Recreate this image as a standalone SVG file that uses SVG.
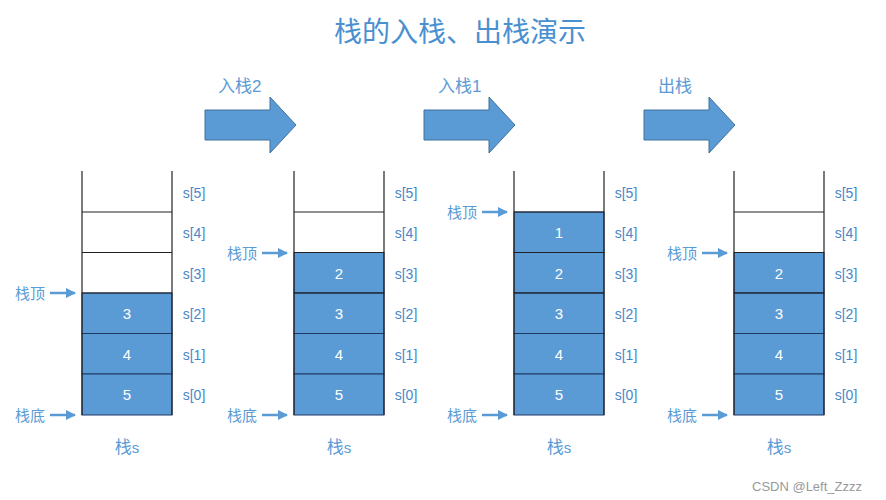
<svg xmlns="http://www.w3.org/2000/svg" width="886" height="500" viewBox="0 0 886 500">
<defs>
<marker id="ah" viewBox="0 0 10 10" refX="9" refY="5" markerWidth="4" markerHeight="4" orient="auto"><path d="M0,0 L10,5 L0,10 z" fill="#5b9bd5"/></marker>
<g id="stk">
<line x1="0" y1="0" x2="0" y2="244" stroke="#222" stroke-width="1.2"/>
<line x1="90" y1="0" x2="90" y2="244" stroke="#222" stroke-width="1.2"/>
<line x1="0" y1="41" x2="90" y2="41" stroke="#222"/>
<line x1="0" y1="81.5" x2="90" y2="81.5" stroke="#222"/>
<line x1="0" y1="122" x2="90" y2="122" stroke="#222"/>
<text class="s" x="112" y="27">s[5]</text><text class="s" x="112" y="67">s[4]</text><text class="s" x="112" y="108">s[3]</text><text class="s" x="112" y="148">s[2]</text><text class="s" x="112" y="189">s[1]</text><text class="s" x="112" y="229">s[0]</text>
<text class="lb" x="45" y="282" text-anchor="middle">栈<tspan font-size="15">s</tspan></text>
</g>
<path id="big" d="M0,13 H65 V0 L91,28 L65,56 V43 H0 z" fill="#5b9bd5" stroke="#41719c"/>
</defs>
<style>
text{font-family:"Liberation Sans","Noto Sans CJK SC",sans-serif;}
.s{fill:#4a86c5;font-size:14px;text-anchor:middle}
.lb{fill:#5b9bd5;font-size:17px}
.lt{fill:#5b9bd5;font-size:15px}
.w{fill:#fff;font-size:15px;text-anchor:middle}
.c{fill:#5b9bd5;stroke:#1f3864;stroke-width:1}
.pa{stroke:#5b9bd5;stroke-width:2.5;marker-end:url(#ah)}
</style>
<text x="460" y="42" text-anchor="middle" font-size="28" fill="#4a90d0">栈的入栈、出栈演示</text>
<g id="arrows">
<use href="#big" x="205" y="97"/><text class="lb" x="218" y="92">入栈2</text>
<use href="#big" x="424" y="97"/><text class="lb" x="438" y="92">入栈1</text>
<use href="#big" x="644" y="97"/><text class="lb" x="658" y="92">出栈</text>
</g>
<g id="stack1">
<rect class="c" x="82" y="293" width="90" height="40.5"/><rect class="c" x="82" y="333.5" width="90" height="40.5"/><rect class="c" x="82" y="374" width="90" height="41"/>
<text class="w" x="127" y="319">3</text><text class="w" x="127" y="360">4</text><text class="w" x="127" y="400">5</text>
<use href="#stk" x="82" y="171"/>
<text class="lt" x="15" y="299">栈顶</text><line class="pa" x1="50" y1="293" x2="75" y2="293"/>
<text class="lt" x="15" y="421">栈底</text><line class="pa" x1="50" y1="415" x2="75" y2="415"/>
</g>
<g id="stack2">
<rect class="c" x="294" y="252.5" width="90" height="40.5"/><rect class="c" x="294" y="293" width="90" height="40.5"/><rect class="c" x="294" y="333.5" width="90" height="40.5"/><rect class="c" x="294" y="374" width="90" height="41"/>
<text class="w" x="339" y="279">2</text><text class="w" x="339" y="319">3</text><text class="w" x="339" y="360">4</text><text class="w" x="339" y="400">5</text>
<use href="#stk" x="294" y="171"/>
<text class="lt" x="227" y="259">栈顶</text><line class="pa" x1="262" y1="253" x2="287" y2="253"/>
<text class="lt" x="227" y="421">栈底</text><line class="pa" x1="262" y1="415" x2="287" y2="415"/>
</g>
<g id="stack3">
<rect class="c" x="514" y="212" width="90" height="40.5"/><rect class="c" x="514" y="252.5" width="90" height="40.5"/><rect class="c" x="514" y="293" width="90" height="40.5"/><rect class="c" x="514" y="333.5" width="90" height="40.5"/><rect class="c" x="514" y="374" width="90" height="41"/>
<text class="w" x="559" y="238">1</text><text class="w" x="559" y="279">2</text><text class="w" x="559" y="319">3</text><text class="w" x="559" y="360">4</text><text class="w" x="559" y="400">5</text>
<use href="#stk" x="514" y="171"/>
<text class="lt" x="447" y="218">栈顶</text><line class="pa" x1="482" y1="212" x2="507" y2="212"/>
<text class="lt" x="447" y="421">栈底</text><line class="pa" x1="482" y1="415" x2="507" y2="415"/>
</g>
<g id="stack4">
<rect class="c" x="734" y="252.5" width="90" height="40.5"/><rect class="c" x="734" y="293" width="90" height="40.5"/><rect class="c" x="734" y="333.5" width="90" height="40.5"/><rect class="c" x="734" y="374" width="90" height="41"/>
<text class="w" x="779" y="279">2</text><text class="w" x="779" y="319">3</text><text class="w" x="779" y="360">4</text><text class="w" x="779" y="400">5</text>
<use href="#stk" x="734" y="171"/>
<text class="lt" x="667" y="259">栈顶</text><line class="pa" x1="702" y1="253" x2="727" y2="253"/>
<text class="lt" x="667" y="421">栈底</text><line class="pa" x1="702" y1="415" x2="727" y2="415"/>
</g>
<text x="752" y="491" font-size="13" fill="#999">CSDN @Left_Zzzz</text>
</svg>
